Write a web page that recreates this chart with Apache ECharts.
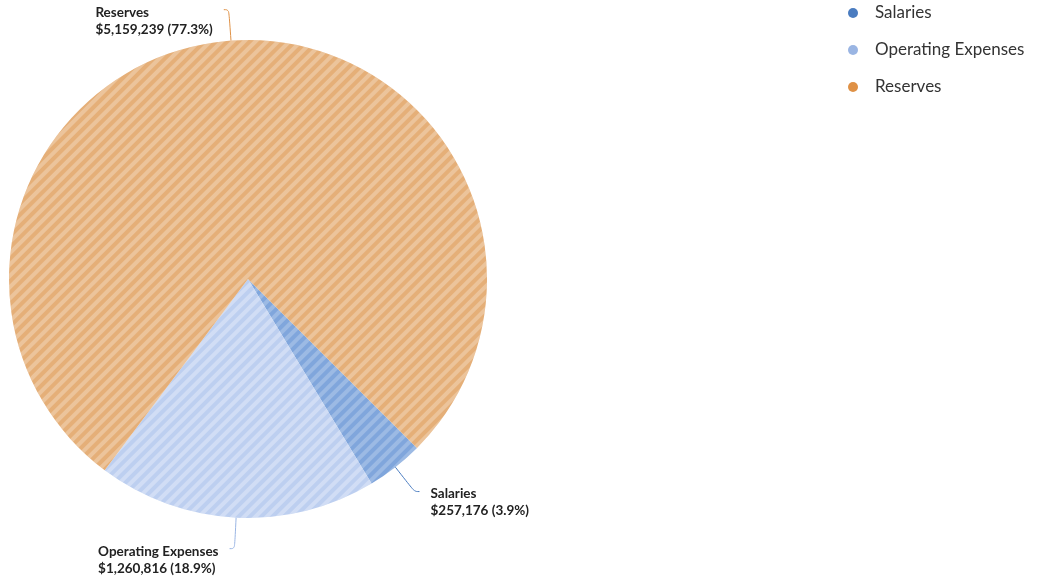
<!DOCTYPE html>
<html>
<head>
<meta charset="utf-8">
<script src="https://cdn.jsdelivr.net/npm/echarts@6/dist/echarts.min.js"></script>
<style>
  html, body { margin: 0; padding: 0; background: #fff; }
  #chart { width: 1037px; height: 579px; }
</style>
</head>
<body>
<div id="chart"></div>
<script>
// Budget split
const categories = ['Salaries', 'Operating Expenses', 'Reserves'];
const amounts = [257176, 1260816, 5159239];

// Legend swatches (solid) and slice fills (lighter, striped)
const legendColors = ['#4a7cc0', '#9ab5e3', '#df9146'];
const sliceColors = ['#80a6dc', '#bdcff0', '#e5af78'];
const stripeColors = ['rgba(255,255,255,0.22)', 'rgba(255,255,255,0.30)', 'rgba(255,255,255,0.26)'];

const PIE_CENTER = [248, 279];
const PIE_RADIUS = 239;
const LEADER_RADIAL = 31;   // first leg, pointing away from the centre
const LEADER_SIDE = 5;      // short horizontal leg toward the label
const LABEL_GAP = 11;

const total = amounts.reduce((a, b) => a + b, 0);
const money = v => '$' + v.toLocaleString('en-US');

const chart = echarts.init(document.getElementById('chart'));

chart.setOption({
  animation: false,
  legend: {
    orient: 'vertical',
    left: 843,
    top: -2,
    icon: 'circle',
    itemWidth: 10,
    itemHeight: 10,
    itemGap: 17,
    selectedMode: false,
    textStyle: {
      fontFamily: 'Lato',
      fontSize: 17,
      color: '#333',
      lineHeight: 20,
      padding: [0, 0, 0, 12]
    },
    data: categories.map((c, i) => ({
      name: c,
      itemStyle: { color: legendColors[i], decal: 'none' }
    }))
  },
  series: [{
    type: 'pie',
    center: PIE_CENTER,
    radius: [0, PIE_RADIUS],
    startAngle: -45,
    clockwise: true,
    silent: true,
    emphasis: { disabled: true },
    data: categories.map((c, i) => ({
      name: c,
      value: amounts[i],
      itemStyle: {
        color: sliceColors[i],
        decal: {
          symbol: 'rect',
          symbolSize: 1,
          dashArrayX: [1, 0],
          dashArrayY: [4, 4],
          rotation: -Math.PI / 4,
          color: stripeColors[i]
        }
      },
      labelLine: { lineStyle: { color: legendColors[i] } }
    })),
    label: {
      show: true,
      position: 'outside',
      formatter: p => '{n|' + p.name + '}\n{v|' + money(p.value) + ' (' + (p.value / total * 100).toFixed(1) + '%)}',
      rich: {
        n: { fontFamily: 'Lato', fontWeight: 'bold', fontSize: 13.5, color: '#222', lineHeight: 17, align: 'left' },
        v: { fontFamily: 'Lato', fontWeight: 'bold', fontSize: 13.5, color: '#222', lineHeight: 17, align: 'left' }
      }
    },
    labelLine: {
      show: true,
      length: LEADER_RADIAL,
      length2: LEADER_SIDE,
      smooth: 0.4,
      lineStyle: { width: 1 }
    },
    // Leader lines leave the rim radially, then turn toward a label whose
    // text is left-aligned and hangs just below the end of the line.
    labelLayout: function (p) {
      const pts = p.labelLinePoints;
      if (!pts) return {};
      const edge = pts[0];
      const dx = edge[0] - PIE_CENTER[0];
      const dy = edge[1] - PIE_CENTER[1];
      const len = Math.sqrt(dx * dx + dy * dy) || 1;
      const elbow = [edge[0] + dx / len * LEADER_RADIAL, edge[1] + dy / len * LEADER_RADIAL];
      const toLeft = dx < 0;
      const end = [elbow[0] + (toLeft ? -LEADER_SIDE : LEADER_SIDE), elbow[1]];
      return {
        x: toLeft ? end[0] - LABEL_GAP - p.labelRect.width : end[0] + LABEL_GAP,
        y: end[1] - 6,
        align: 'left',
        verticalAlign: 'top',
        labelLinePoints: [edge, elbow, end]
      };
    }
  }]
});
</script>
</body>
</html>
